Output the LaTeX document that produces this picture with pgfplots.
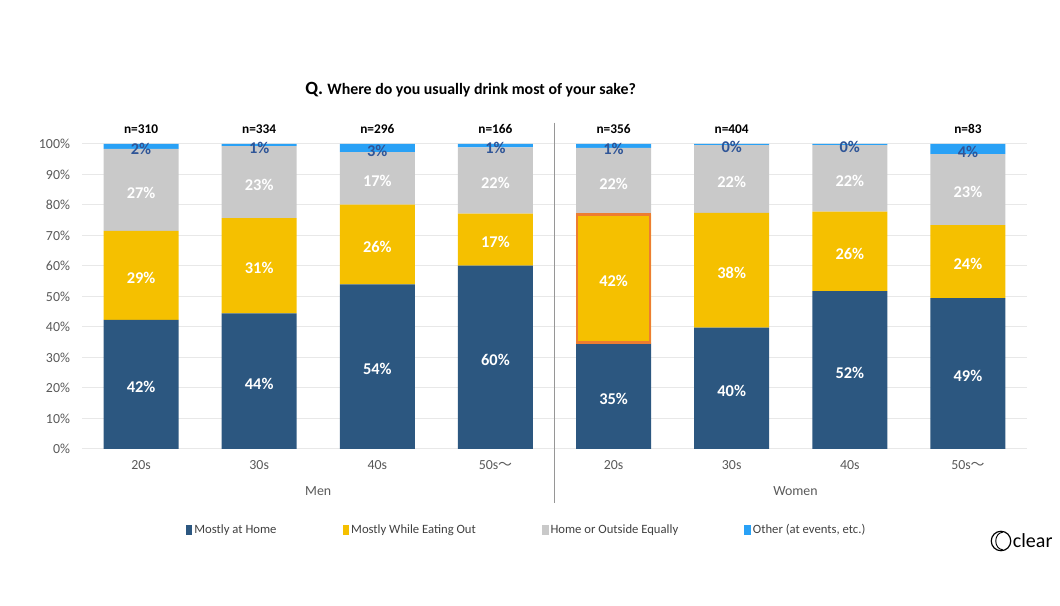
\documentclass[border=0pt]{standalone}
\usepackage{pgfplots}
\pgfplotsset{compat=1.18}
\usepackage{pgfplotstable}
\usepackage{fontspec}
\setmainfont{Carlito}
\newfontfamily\cjk{Noto Sans CJK JP}
\definecolor{cHome}{RGB}{44,87,128}
\definecolor{cOut}{RGB}{245,192,0}
\definecolor{cEq}{RGB}{201,201,201}
\definecolor{cOther}{RGB}{41,161,246}
\definecolor{cOtherTxt}{RGB}{47,85,151}
\definecolor{cOrange}{RGB}{237,125,49}
\definecolor{cGrid}{RGB}{232,232,232}
\definecolor{cTick}{RGB}{89,89,89}
\definecolor{cSep}{RGB}{150,150,150}
\definecolor{cLeg}{RGB}{64,64,64}

\pgfplotstableread{
x home out equal other lhome lout lequal lother
0 42.3 29.2 26.9 1.6 42 29 27 2
1 44.5 31.2 23.6 0.7 44 31 23 1
2 54.0 26.1 17.2 2.7 54 26 17 3
3 60.1 17.1 21.7 1.1 60 17 22 1
4 34.9 42.0 21.8 1.3 35 42 22 1
5 39.8 37.6 22.2 0.4 40 38 22 0
6 51.8 26.0 21.8 0.4 52 26 22 0
7 49.5 23.9 23.3 3.3 49 24 23 4
}\data

\pgfplotsset{
  base/.style={
    at={(0,0)}, anchor=south west,
    scale only axis, width=708.75pt, height=228.75pt,
    xmin=-0.5, xmax=7.5, ymin=0, ymax=100,
    clip=false,
  },
  sq/.style={legend image code/.code={\fill[##1] (0pt,-3.4pt) rectangle (5pt,3.4pt);}},
  lab/.style={only marks, mark=*, mark size=0pt, mark options={draw=none, fill=none}},
}
\tikzset{
  nlab/.style={anchor=base, font=\fontsize{10}{12}\selectfont\bfseries, text=black},
  glab/.style={anchor=base, font=\fontsize{10.4}{12}\selectfont, text=cTick},
}

\begin{document}
\begin{tikzpicture}
\path[use as bounding box] (-61.5pt,-117.75pt) rectangle (733.5pt,336.75pt);

\begin{axis}[base, ybar stacked, bar width=56.25pt,
  axis line style={draw=none}, major tick style={draw=none},
  ytick={0,10,...,100}, yticklabel={\pgfmathprintnumber{\tick}\%},
  ymajorgrids, grid style={draw=cGrid, line width=0.75pt},
  xtick={0,...,7},
  xticklabels={20s,30s,40s,50s{\cjk 〜},20s,30s,40s,50s{\cjk 〜}},
  ticklabel style={font=\fontsize{10.4}{12}\selectfont, text=cTick},
  yticklabel style={xshift=-5.5pt},
  xticklabel style={anchor=base, yshift=-15.75pt},
  /pgf/number format/assume math mode=true,
  legend columns=4,
  legend style={draw=none, fill=none, at={(0.4704,-0.2656)}, anchor=center,
    font=\fontsize{9.5}{11}\selectfont, text=cLeg,
    nodes={inner sep=1.5pt},
    /tikz/every even column/.append style={column sep=48pt}},
]
\addplot[fill=cHome, draw=none, sq] table[x=x,y=home]{\data};
\addlegendentry{Mostly at Home}
\addplot[fill=cOut, draw=none, sq] table[x=x,y=out]{\data};
\addlegendentry{Mostly While Eating Out}
\addplot[fill=cEq, draw=none, sq] table[x=x,y=equal]{\data};
\addlegendentry{Home or Outside Equally}
\addplot[fill=cOther, draw=none, sq] table[x=x,y=other]{\data};
\addlegendentry{Other (at events, etc.)}

\draw[cSep, line width=0.75pt] (axis cs:3.5,107) -- (axis cs:3.5,-17.7);
\node[nlab] at (axis cs:0,103.4) {n=310};
\node[nlab] at (axis cs:1,103.4) {n=334};
\node[nlab] at (axis cs:2,103.4) {n=296};
\node[nlab] at (axis cs:3,103.4) {n=166};
\node[nlab] at (axis cs:4,103.4) {n=356};
\node[nlab] at (axis cs:5,103.4) {n=404};
\node[nlab] at (axis cs:7,103.4) {n=83};
\node[glab] at (axis cs:1.5,-15.2) {Men};
\node[glab] at (axis cs:5.54,-15.2) {Women};
\end{axis}

\begin{axis}[base, hide axis, ybar stacked, bar width=54.5pt]
\addplot[draw=none, fill=none, restrict x to domain=3.5:4.5] table[x=x,y=home]{\data};
\addplot[draw=cOrange, fill=none, line width=1.6pt, restrict x to domain=3.5:4.5] table[x=x,y=out]{\data};
\end{axis}

\begin{axis}[base, hide axis,
  nodes near coords={\pgfplotspointmeta\%}, point meta=explicit symbolic,
  every node near coord/.style={anchor=center, yshift=-2pt, inner sep=0pt,
    font=\fontsize{12.3}{14}\selectfont\bfseries, text=white}]
\addplot[lab] table[x=x, y expr=\thisrow{home}/2, meta=lhome]{\data};
\addplot[lab] table[x=x, y expr=\thisrow{home}+\thisrow{out}/2, meta=lout]{\data};
\addplot[lab] table[x=x, y expr=\thisrow{home}+\thisrow{out}+\thisrow{equal}/2, meta=lequal]{\data};
\addplot[lab, nodes near coords style={text=cOtherTxt}] table[x=x, y expr=\thisrow{home}+\thisrow{out}+\thisrow{equal}+\thisrow{other}/2, meta=lother]{\data};
\end{axis}

\node[anchor=base west] at (164pt,265.5pt) {\fontsize{14}{16}\selectfont\bfseries Q.\ \fontsize{11.9}{14}\selectfont Where do you usually drink most of your sake?};

\draw[black, line width=0.9pt] (689.25pt,-69pt) circle (7.3pt);
\draw[black, line width=0.7pt] (690.5pt,-62.5pt) arc (90:270:5.2pt and 6.5pt);
\node[anchor=west, font=\fontsize{15}{17}\selectfont, text=black, inner sep=0pt] at (698pt,-69pt) {clear};
\end{tikzpicture}
\end{document}
